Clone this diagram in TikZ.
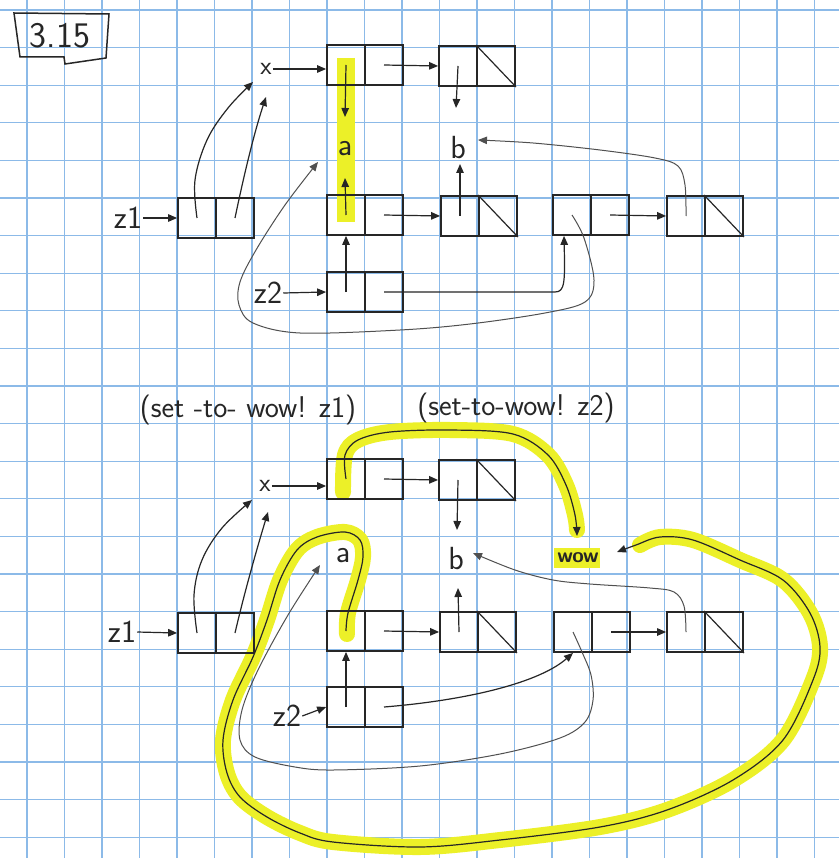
\documentclass[tikz,border=0pt]{standalone}
\usetikzlibrary{arrows.meta}
\pgfdeclarelayer{bg}
\pgfdeclarelayer{hl}
\pgfsetlayers{bg,hl,main}
\definecolor{pen}{RGB}{38,38,38}
\definecolor{lpen}{RGB}{80,80,80}
\definecolor{gridblue}{RGB}{140,186,232}
\definecolor{hilite}{RGB}{236,240,40}
\tikzset{
  cell/.style={draw=pen, line width=1.8pt, minimum width=38pt, minimum height=40pt, inner sep=0pt},
  lbl/.style={text=pen, font=\sffamily\fontsize{32}{32}\selectfont, inner sep=1pt},
  small/.style={font=\sffamily\fontsize{26}{26}\selectfont},
  wowf/.style={font=\sffamily\bfseries\fontsize{21}{21}\selectfont},
  big/.style={font=\sffamily\fontsize{30}{30}\selectfont},
  title/.style={font=\sffamily\fontsize{36}{36}\selectfont},
  arr/.style={draw=pen, line width=1.2pt, -{Triangle[length=9pt,width=7.5pt]}},
  larr/.style={arr, draw=lpen, line width=1pt},
  hl/.style={draw=hilite, line width=16pt, line cap=round, line join=round},
  gridl/.style={draw=gridblue, line width=1.1pt},
  diag/.style={draw=pen, line width=1.2pt},
}
\newcommand\mypair[3]{%
  \node[cell] (#1-a) at (#2,#3) {};
  \node[cell] (#1-d) at (#2+38,#3) {};}
\begin{document}
\begin{tikzpicture}[x=1pt,y=-1pt]
\useasboundingbox (0,0) rectangle (839,858);
\begin{pgfonlayer}{bg}
  \fill[white] (0,0) rectangle (839,858);
  \foreach \i in {0,...,21} \draw[gridl] (27+37.5*\i,0) -- (27+37.5*\i,858);
  \foreach \j in {0,...,22} \draw[gridl] (0,10+37.6*\j) -- (839,10+37.6*\j);
\end{pgfonlayer}

% ---------- title ----------
\node[lbl, title] (ttl) at (60,36) {3.15};
\draw[pen, line width=1.5pt] (14,13) -- (109,14) -- (106,58) -- (65,64) -- (64,57) -- (20,57) -- cycle;

% ---------- top diagram ----------
\mypair{TX}{346}{65}
\mypair{TXb}{458}{66}
\mypair{TZ1}{197}{218}
\mypair{TZa}{346}{215}
\mypair{TZb}{460}{216}
\mypair{TZc}{572}{215}
\mypair{TZd}{686}{216}
\mypair{TZ2}{346}{292}
\draw[diag] (TXb-d.north west) -- (TXb-d.south east);
\draw[diag] (TZb-d.north west) -- (TZb-d.south east);
\draw[diag] (TZd-d.north west) -- (TZd-d.south east);

\node[lbl, small] (tx) at (266,69) {x};
\node[lbl] (ta) at (345,149) {a};
\node[lbl] (tb) at (458,148) {b};
\node[lbl] (tz1) at (128,218) {z1};
\node[lbl] (tz2) at (268,293) {z2};

\draw[arr] (tx.east) -- (TX-a.west |- tx.east);
\draw[arr] (TX-a.center) -- ([shift={(0,-32)}]ta.center);
\draw[arr] (TX-d.center) -- (TXb-a.west);
\draw[arr] (TXb-a.center) -- ([shift={(-2,-40)}]tb.center);
\draw[arr] (tz1.east) -- (TZ1-a.west);
\draw[arr] plot[smooth, tension=0.6] coordinates {(TZ1-a.center) (195,180) (207,140) (228,108) ([shift={(-13,13)}]tx.center)};
\draw[arr] (TZ1-d.center) .. controls (245,170) and (255,130) .. ([shift={(0,28)}]tx.center);
\draw[arr] (tz2.east) -- (TZ2-a.west);
\draw[arr] (TZ2-a.center) -- (TZa-a.south);
\draw[arr] (TZa-a.center) -- ([shift={(0,29)}]ta.center);
\draw[arr] (TZa-d.center) -- (TZb-a.west);
\draw[arr] (TZb-a.center) -- ([shift={(2,16)}]tb.center);
\draw[arr] (TZc-d.center) -- (TZd-a.west);
\draw[arr] (TZ2-d.center) -- (555,292) .. controls (565,292) and (565,282) .. ([xshift=-8pt]TZc-a.south);
\draw[larr] plot[smooth, tension=0.55] coordinates {(TZc-a.center) (584,238) (594,280) (585,302) (545,313) (470,324) (400,330) (300,333) (253,323) (239,305) (240,282) (256,250) (285,205) ([shift={(-27,13)}]ta.center)};
\draw[larr] plot[smooth, tension=0.55] coordinates {(TZd-a.center) (685,185) (678,166) (655,158) (600,150) (533,143) ([shift={(20,-8)}]tb.center)};

% ---------- middle text ----------
\node[lbl, big] (cmd1) at (248,410) {(set -to- wow! z1)};
\node[lbl, big] (cmd2) at (516,408) {(set-to-wow! z2)};

% ---------- bottom diagram ----------
\mypair{BX}{346}{479}
\mypair{BXb}{458}{480}
\mypair{BZ1}{197}{633}
\mypair{BZa}{346}{631}
\mypair{BZb}{459}{632}
\mypair{BZc}{573}{632}
\mypair{BZd}{686}{632}
\mypair{BZ2}{346}{707}
\draw[diag] (BXb-d.north west) -- (BXb-d.south east);
\draw[diag] (BZb-d.north west) -- (BZb-d.south east);
\draw[diag] (BZd-d.north west) -- (BZd-d.south east);

\node[lbl, small] (bx) at (265,486) {x};
\node[lbl] (ba) at (343,556) {a};
\node[lbl] (bb) at (456,559) {b};
\node[lbl, wowf] (bwow) at (578,558) {wow};
\node[lbl] (bz1) at (122,632) {z1};
\node[lbl] (bz2) at (287,716) {z2};

\begin{pgfonlayer}{hl}
  \fill[hilite] ([shift={(-24,-10)}]bwow.center) rectangle ([shift={(22,10)}]bwow.center);
  \draw[hilite, line width=18pt] (346,58) -- (346,222);
  \draw[hl] plot[smooth, tension=0.55] coordinates {(343,492) (345,455) (358,440) (390,432) (450,430) (513,434) (548,455) (566,485) (575,515) (577,530)};
  \draw[hl] plot[smooth, tension=0.55] coordinates {(347,634) (348,613) (358,580) (363,557) (360,540) (345,532) (317,537) (297,550) (280,580) (267,620) (253,657) (233,700) (223,740) (227,773) (240,797) (267,817) (300,833) (333,842) (420,847) (500,840) (600,827) (667,810) (733,780) (783,740) (813,680) (820,647) (810,613) (783,580) (740,560) (693,540) (660,537) (640,545)};
\end{pgfonlayer}

\draw[arr] (bx.east) -- (BX-a.west |- bx.east);
\draw[arr] plot[smooth, tension=0.55] coordinates {(BX-a.center) (345,455) (358,440) (390,432) (450,430) (513,434) (548,455) (566,485) (575,515) ([shift={(-1,-22)}]bwow.center)};
\draw[arr] (BX-d.center) -- (BXb-a.west);
\draw[arr] (BXb-a.center) -- ([shift={(1,-29)}]bb.center);
\draw[arr] (bz1.east) -- (BZ1-a.west);
\draw[arr] plot[smooth, tension=0.6] coordinates {(BZ1-a.center) (194,595) (202,560) (222,528) ([shift={(-13,14)}]bx.center)};
\draw[arr] (BZ1-d.center) .. controls (245,590) and (258,545) .. ([shift={(3,26)}]bx.center);
\draw[arr] plot[smooth, tension=0.55] coordinates {(BZa-a.center) (348,613) (358,580) (363,557) (360,540) (345,532) (317,537) (297,550) (280,580) (267,620) (253,657) (233,700) (223,740) (227,773) (240,797) (267,817) (300,833) (333,842) (420,847) (500,840) (600,827) (667,810) (733,780) (783,740) (813,680) (820,647) (810,613) (783,580) (740,560) (693,540) (660,537) (636,545) ([shift={(39,-6)}]bwow.center)};
\draw[arr] (BZa-d.center) -- (BZb-a.west);
\draw[arr] (BZb-a.center) -- ([shift={(2,29)}]bb.center);
\draw[arr] (BZc-d.center) -- (BZd-a.west);
\draw[arr] (bz2.east) -- (BZ2-a.west);
\draw[arr] (BZ2-a.center) -- (BZa-a.south);
\draw[arr] (BZ2-d.center) .. controls (470,700) and (540,682) .. (BZc-a.south);
\draw[larr] plot[smooth, tension=0.55] coordinates {(BZc-a.center) (582,652) (591,675) (593,700) (585,722) (560,738) (500,754) (420,766) (333,770) (295,767) (255,757) (240,740) (242,710) (258,670) (288,615) ([shift={(-23,9)}]ba.center)};
\draw[larr] plot[smooth, tension=0.55] coordinates {(BZd-a.center) (684,606) (674,592) (650,588) (590,584) (553,580) (515,570) ([shift={(17,-6)}]bb.center)};
\end{tikzpicture}
\end{document}
